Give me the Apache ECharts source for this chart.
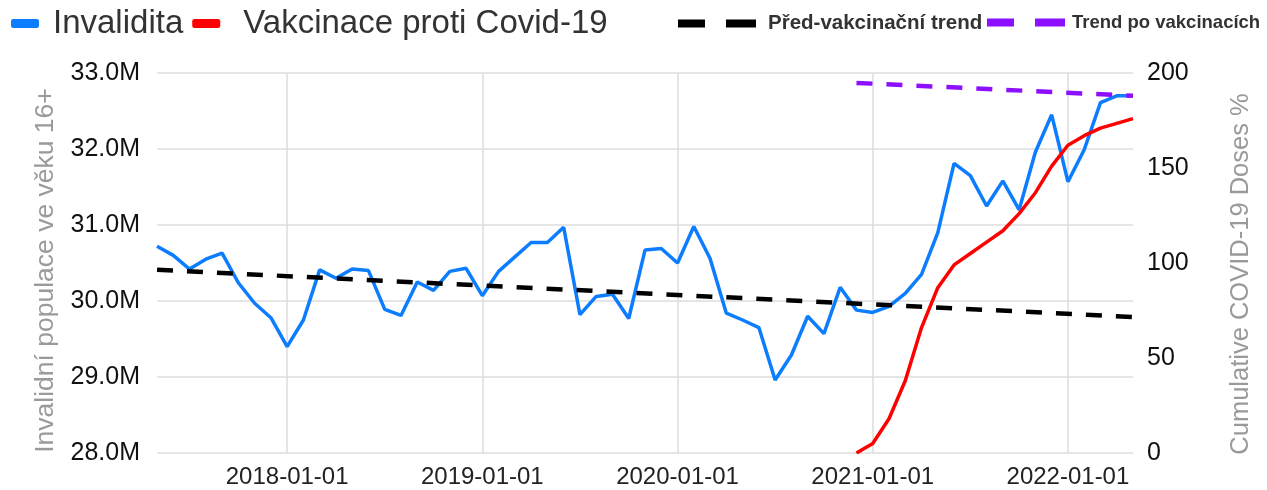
<!DOCTYPE html>
<html><head><meta charset="utf-8">
<script src="https://cdn.jsdelivr.net/npm/echarts@6/dist/echarts.min.js"></script>
<style>html,body{margin:0;padding:0;background:#fff}#c{width:1267px;height:490px}</style>
</head><body><div id="c"></div>
<script>
const months = [
 '2017-05-01','2017-06-01','2017-07-01','2017-08-01','2017-09-01','2017-10-01','2017-11-01','2017-12-01',
 '2018-01-01','2018-02-01','2018-03-01','2018-04-01','2018-05-01','2018-06-01','2018-07-01','2018-08-01','2018-09-01','2018-10-01','2018-11-01','2018-12-01',
 '2019-01-01','2019-02-01','2019-03-01','2019-04-01','2019-05-01','2019-06-01','2019-07-01','2019-08-01','2019-09-01','2019-10-01','2019-11-01','2019-12-01',
 '2020-01-01','2020-02-01','2020-03-01','2020-04-01','2020-05-01','2020-06-01','2020-07-01','2020-08-01','2020-09-01','2020-10-01','2020-11-01','2020-12-01',
 '2021-01-01','2021-02-01','2021-03-01','2021-04-01','2021-05-01','2021-06-01','2021-07-01','2021-08-01','2021-09-01','2021-10-01','2021-11-01','2021-12-01',
 '2022-01-01','2022-02-01','2022-03-01','2022-04-01','2022-05-01'
];
// Invalidita, millions
const invalidita = [
 30.72,30.60,30.42,30.55,30.63,30.24,29.97,29.78,
 29.40,29.75,30.41,30.30,30.42,30.40,29.89,29.81,30.25,30.14,30.39,30.43,
 30.07,30.39,30.58,30.77,30.77,30.97,29.82,30.06,30.09,29.77,30.67,30.69,
 30.50,30.98,30.56,29.84,29.75,29.65,28.96,29.29,29.80,29.57,30.18,29.88,
 29.85,29.93,30.10,30.35,30.90,31.81,31.65,31.25,31.58,31.20,31.96,32.45,
 31.57,31.99,32.61,32.70,32.70
];
const vaccineStart = '2020-12-01';
const vaccine = [0,5,18,38,66,87,99,105,111,117,126,137,151,162,167,171,173.5,176];
const preTrend = [['2017-05-01',30.41],['2022-05-01',29.79]];
const postTrend = [['2020-12-01',32.87],['2022-05-01',32.70]];
const leftAxis = {min:28, max:33, interval:1};
const rightAxis = {min:0, max:200, interval:50};

const idx = m => months.indexOf(m);
const vStart = idx(vaccineStart);
const vaccineData = vaccine.map((v,k)=>[vStart+k, v]);
const preData = preTrend.map(p=>[idx(p[0]), p[1]]);
const postData = postTrend.map(p=>[idx(p[0]), p[1]]);
const isJan = (i, v) => v.slice(5) === '01-01';

const chart = echarts.init(document.getElementById('c'), null, {renderer:'canvas'});
const dashIcon = 'path://M0,0h27v8h-27z M48,0h30v8h-30z';
const sans = 'Liberation Sans, Arial, sans-serif';
const trendLegend = (name, left, size, pad) => ({
  data:[{name:name, icon:dashIcon}],
  left:left, top:13, padding:0, itemWidth:78, itemHeight:8,
  textStyle:{fontSize:size, fontWeight:'bold', color:'#333', padding:[0,0,0,pad], fontFamily:sans}
});
chart.setOption({
  animation:false,
  backgroundColor:'#fff',
  grid:{left:157, right:134, top:73, bottom:37, containLabel:false},
  legend:[{
    data:[
      {name:'Invalidita', textStyle:{padding:[0,0,0,9]}},
      {name:'Vakcinace proti Covid-19', textStyle:{padding:[0,0,0,18]}}
    ],
    left:11, top:7, padding:0, width:640, icon:'roundRect', itemWidth:28, itemHeight:9, itemGap:9,
    textStyle:{fontSize:33, color:'#333', fontFamily:sans}
  },
  trendLegend('Před-vakcinační trend', 678, 20.5, 7),
  trendLegend('Trend po vakcinacích', 987, 18.5, 2)
  ],
  xAxis:{
    type:'category', data:months, boundaryGap:false,
    axisTick:{show:false}, axisLine:{show:false},
    axisLabel:{interval:isJan, fontSize:24, color:'#222', margin:12, fontFamily:sans},
    splitLine:{show:true, interval:isJan, lineStyle:{color:'#dcdcdc', width:1.5}}
  },
  yAxis:[{
    type:'value', position:'left', min:leftAxis.min, max:leftAxis.max, interval:leftAxis.interval,
    axisLine:{show:false}, axisTick:{show:false},
    axisLabel:{formatter:v=>v.toFixed(1)+'M', fontSize:25, color:'#111', margin:17, fontFamily:sans},
    splitLine:{lineStyle:{color:'#dcdcdc', width:1.5}},
    name:'Invalidní populace ve věku 16+', nameLocation:'middle', nameRotate:90, nameGap:95,
    nameTextStyle:{fontSize:26.5, color:'#9a9a9a', fontFamily:sans, padding:[0,15,0,0]}
  },{
    type:'value', position:'right', min:rightAxis.min, max:rightAxis.max, interval:rightAxis.interval,
    axisLine:{show:false}, axisTick:{show:false}, splitLine:{show:false},
    axisLabel:{fontSize:25, color:'#111', margin:14, fontFamily:sans},
    name:'Cumulative COVID-19 Doses %', nameLocation:'middle', nameRotate:90, nameGap:95,
    nameTextStyle:{fontSize:25.5, color:'#9a9a9a', fontFamily:sans, padding:[0,22,0,0]}
  }],
  series:[
    {name:'Invalidita', type:'line', yAxisIndex:0, data:invalidita, symbol:'none',
      itemStyle:{color:'#0c7dff'}, lineStyle:{color:'#0c7dff', width:3.5}},
    {name:'Vakcinace proti Covid-19', type:'line', yAxisIndex:1, data:vaccineData, symbol:'none',
      itemStyle:{color:'#ff0000'}, lineStyle:{color:'#ff0000', width:3.5}},
    {name:'Před-vakcinační trend', type:'line', yAxisIndex:0, data:preData, symbol:'none',
      itemStyle:{color:'#000'}, lineStyle:{color:'#000', width:4.5, type:[16,14]}},
    {name:'Trend po vakcinacích', type:'line', yAxisIndex:0, data:postData, symbol:'none',
      itemStyle:{color:'#8c10ff'}, lineStyle:{color:'#8c10ff', width:4.5, type:[16,14]}}
  ]
});
</script></body></html>
